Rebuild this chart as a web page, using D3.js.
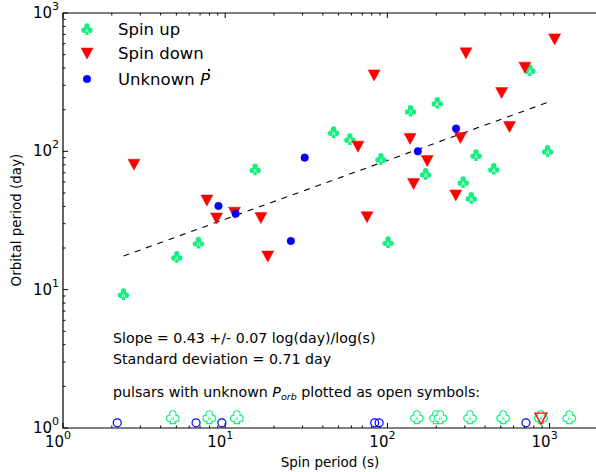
<!DOCTYPE html>
<head>
<meta charset="utf-8">
<title>Orbital vs spin period</title>
<style>
  body { margin: 0; background: #fff; }
  text { font-family: "DejaVu Sans", sans-serif; }
</style>
</head>
<body>
<script src="https://cdnjs.cloudflare.com/ajax/libs/d3/7.8.5/d3.min.js"></script>
<script>

    // spin period (s), orbital period (day)
    const spinUpP    = [2.36, 5.03, 6.84, 15.3, 46.6, 58.7, 91.2, 101, 139, 203, 172, 293, 329, 352, 453, 756, 972];
    const spinUpPorb = [9.31, 17.3, 21.9, 74.2, 138, 123, 88.4, 22.1, 197, 225, 69.0, 60.1, 46.2, 94.2, 75.0, 388, 101];

    const spinDownP    = [2.74, 7.71, 8.84, 11.4, 16.6, 18.3, 65.9, 74.9, 82.8, 138, 145, 176, 264, 282, 305, 506, 566, 704, 1074];
    const spinDownPorb = [80.7, 44.5, 33.0, 36.3, 33.2, 17.5, 109, 33.7, 357, 124, 58.6, 85.7, 48.4, 126, 515, 266, 151, 406, 650];

    const unknownP    = [9.09, 11.6, 25.4, 30.9, 154, 265];
    const unknownPorb = [40.3, 35.4, 22.5, 90.0, 100, 146];

    // pulsars with unknown orbital period (plotted at bottom)
    const openUpP     = [4.75, 7.98, 11.8, 152, 199, 212, 323, 517, 885, 1323];
    const openDownP   = [885];
    const openUnkP    = [2.16, 6.61, 9.54, 83.5, 88.9, 715];
    const openUpY = 1.2, openDownY = 1.18, openUnkY = 1.09;

    // fitted line end points
    const fitP    = [2.36, 1006];
    const fitPorb = [17.5, 229];

    const xDecades = [1, 10, 100, 1000];
    const yDecades = [1, 10, 100, 1000];

    const W = 596, H = 472;
    const green = '#14f07f', red = '#ff0000', blue = '#0000ff';

    const x = d3.scaleLog().domain([1, 2000]).range([63, 63 + 162.2 * Math.log10(2000)]);
    const y = d3.scaleLog().domain([1, 1000]).range([428, 13]);

    const svg = d3.select('body').append('svg')
        .attr('width', W)
        .attr('height', H);

    // minor + major ticks, pointing inward
    function minorTicks(dec) {
        const out = [];
        dec.forEach(d => { for (let k = 2; k <= 9; k++) out.push(d * k); });
        return out;
    }
    const xMinor = minorTicks(xDecades).filter(v => v < 2000);
    const yMinor = minorTicks(yDecades).filter(v => v < 1000);

    const ticks = svg.append('g').attr('stroke', '#000').attr('stroke-width', 1);
    xDecades.forEach(v => {
        ticks.append('line').attr('x1', x(v)).attr('x2', x(v)).attr('y1', 428).attr('y2', 423);
        ticks.append('line').attr('x1', x(v)).attr('x2', x(v)).attr('y1', 13).attr('y2', 18);
    });
    xMinor.forEach(v => {
        ticks.append('line').attr('x1', x(v)).attr('x2', x(v)).attr('y1', 428).attr('y2', 425.5);
        ticks.append('line').attr('x1', x(v)).attr('x2', x(v)).attr('y1', 13).attr('y2', 15.5);
    });
    yDecades.forEach(v => {
        ticks.append('line').attr('x1', 63).attr('x2', 68).attr('y1', y(v)).attr('y2', y(v));
    });
    yMinor.forEach(v => {
        ticks.append('line').attr('x1', 63).attr('x2', 65.5).attr('y1', y(v)).attr('y2', y(v));
    });

    // frame
    svg.append('path')
        .attr('d', `M${x(2000)},13 H63 V428 H${x(2000)}`)
        .attr('fill', 'none')
        .attr('stroke', '#000')
        .attr('stroke-width', 1.2);

    // tick labels 10^n
    function powLabel(sel, n) {
        sel.append('tspan').text('10');
        sel.append('tspan').attr('dy', -8).attr('font-size', 11).text(n);
    }
    xDecades.forEach(v => {
        const t = svg.append('text')
            .attr('x', x(v) - 5)
            .attr('y', 447)
            .attr('text-anchor', 'middle')
            .attr('font-size', 15);
        powLabel(t, Math.round(Math.log10(v)));
    });
    yDecades.forEach(v => {
        const t = svg.append('text')
            .attr('x', 46)
            .attr('y', y(v) + 5)
            .attr('text-anchor', 'middle')
            .attr('font-size', 15);
        powLabel(t, Math.round(Math.log10(v)));
    });

    // axis titles
    svg.append('text')
        .attr('x', 330).attr('y', 467)
        .attr('text-anchor', 'middle')
        .attr('font-size', 13.5)
        .text('Spin period (s)');
    svg.append('text')
        .attr('transform', 'translate(21,220) rotate(-90)')
        .attr('text-anchor', 'middle')
        .attr('font-size', 13.5)
        .text('Orbital period (day)');

    // fit line
    svg.append('line')
        .attr('x1', x(fitP[0])).attr('y1', y(fitPorb[0]))
        .attr('x2', x(fitP[1])).attr('y2', y(fitPorb[1]))
        .attr('stroke', '#000')
        .attr('stroke-width', 1.1)
        .attr('stroke-dasharray', '6,6');

    // club suit as a path: three lobes and a stem
    function clubPath(px, py) {
        const r = 2.7;
        const lobe = (cx, cy) => `M${cx + r},${cy} A${r},${r} 0 1,0 ${cx - r},${cy} A${r},${r} 0 1,0 ${cx + r},${cy} Z`;
        return lobe(px, py - 3) + lobe(px - 3, py + 1.3) + lobe(px + 3, py + 1.3) +
            `M${px - 0.8},${py} L${px + 0.8},${py} L${px + 1.9},${py + 6} L${px - 1.9},${py + 6} Z`;
    }
    function club(g, px, py, open) {
        if (open) {
            g.append('path').attr('d', clubPath(px, py))
                .attr('fill', green).attr('stroke', green).attr('stroke-width', 2.4);
            g.append('path').attr('d', clubPath(px, py)).attr('fill', '#fff');
        } else {
            g.append('path').attr('d', clubPath(px, py)).attr('fill', green);
        }
    }
    function tri(g, px, py, open) {
        g.append('path')
            .attr('d', `M${px - 6},${py - 5} L${px + 6},${py - 5} L${px},${py + 6} Z`)
            .attr('fill', open ? 'none' : red)
            .attr('stroke', red)
            .attr('stroke-width', open ? 1.3 : 0.5);
    }
    function dot(g, px, py, open) {
        g.append('circle')
            .attr('cx', px).attr('cy', py)
            .attr('r', open ? 4 : 3.8)
            .attr('fill', open ? 'none' : blue)
            .attr('stroke', blue)
            .attr('stroke-width', open ? 1.2 : 0.5);
    }

    const marks = svg.append('g');
    spinUpP.forEach((p, i) => club(marks, x(p), y(spinUpPorb[i]), false));
    spinDownP.forEach((p, i) => tri(marks, x(p), y(spinDownPorb[i]), false));
    unknownP.forEach((p, i) => dot(marks, x(p), y(unknownPorb[i]), false));

    openUpP.forEach(p => club(marks, x(p), y(openUpY), true));
    openDownP.forEach(p => tri(marks, x(p), y(openDownY), true));
    openUnkP.forEach(p => dot(marks, x(p), y(openUnkY), true));

    // legend
    const legend = svg.append('g');
    club(legend, 87, 29, false);
    tri(legend, 87, 53, false);
    dot(legend, 87, 79, false);
    const legText = [['Spin up', 35], ['Spin down', 59], ['Unknown', 85]];
    legText.forEach(([s, ty]) => {
        legend.append('text').attr('x', 118).attr('y', ty).attr('font-size', 16.5).text(s);
    });
    legend.append('text')
        .attr('x', 200).attr('y', 85)
        .attr('font-size', 16.5)
        .attr('font-style', 'italic')
        .text('P');
    legend.append('circle').attr('cx', 209).attr('cy', 70).attr('r', 1.2).attr('fill', '#000');

    // annotations
    const notes = svg.append('g').attr('font-size', 14.2);
    notes.append('text').attr('x', 113).attr('y', 343).text('Slope = 0.43 +/- 0.07 log(day)/log(s)');
    notes.append('text').attr('x', 113).attr('y', 364).text('Standard deviation = 0.71 day');
    const n3 = notes.append('text').attr('x', 113).attr('y', 397);
    n3.append('tspan').text('pulsars with unknown ');
    n3.append('tspan').attr('font-style', 'italic').text('P');
    n3.append('tspan').attr('font-style', 'italic')
        .attr('font-size', 9.5).attr('dy', 3).text('orb');
    n3.append('tspan').attr('dy', -3).text(' plotted as open symbols:');

</script>
</body>
